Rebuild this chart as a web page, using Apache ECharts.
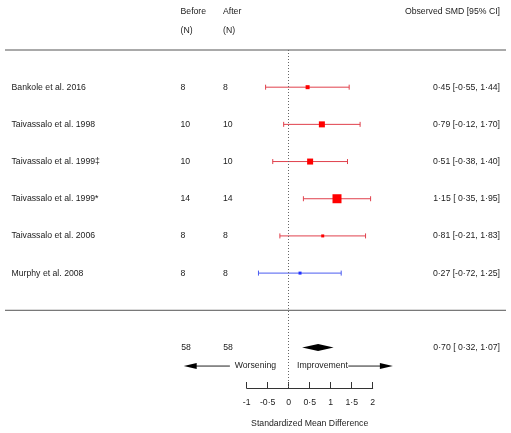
<!DOCTYPE html>
<html><head><meta charset="utf-8">
<script src="https://cdn.jsdelivr.net/npm/echarts@6/dist/echarts.min.js"></script>
<style>html,body{margin:0;padding:0;background:#fff}#c{width:511px;height:433px}</style>
</head><body><div id="c"></div>
<script>
const studies = ['Bankole et al. 2016','Taivassalo et al. 1998','Taivassalo et al. 1999\u2021','Taivassalo et al. 1999*','Taivassalo et al. 2006','Murphy et al. 2008'];
const beforeN = [8,10,10,14,8,8];
const afterN = [8,10,10,14,8,8];
const smd = [0.45,0.79,0.51,1.15,0.81,0.27];
const ciLow = [-0.55,-0.12,-0.38,0.35,-0.21,-0.72];
const ciHigh = [1.44,1.70,1.40,1.95,1.83,1.25];
const weights = [16,36,36,81,9,9];
const groups = ['A','A','A','A','A','B'];
const summary = {before:58, after:58, est:0.70, lo:0.32, hi:1.07};
const tickLabels = ['-1','-0\u00b75','0','0\u00b75','1','1\u00b75','2'];

const FONT = 'Liberation Sans, Arial, sans-serif';
const FS = 8.7;
const colors = {A:{line:'#e0404c', pt:'#ff0000'}, B:{line:'#4a5cf0', pt:'#2030ff'}};
const fmt = v => (v<0?'-':'') + Math.abs(v).toFixed(2).replace('.', '\u00b7');
const fmtCI = (e,l,h) => fmt(e) + ' [' + (l<0?'':' ') + fmt(l) + ', ' + fmt(h) + ']';

const chart = echarts.init(document.getElementById('c'), null, {renderer:'canvas'});
const rows = smd.map((v,i)=>[v, i, ciLow[i], ciHigh[i], weights[i], groups[i]]);

const option = {
  animation:false,
  grid:{left:246.7, right:138.3, top:50, bottom:45},
  xAxis:{type:'value', min:-1, max:2, interval:0.5, position:'bottom',
    axisLine:{show:true, onZero:false, lineStyle:{color:'#333', width:1}},
    axisTick:{show:true, inside:true, length:6, lineStyle:{color:'#333'}},
    splitLine:{show:false},
    axisLabel:{margin:10, fontSize:FS, color:'#222', fontFamily:FONT,
      formatter:(v)=>{const i=Math.round((v+1)/0.5); return tickLabels[i]||'';}},
    name:'Standardized Mean Difference', nameLocation:'middle', nameGap:31,
    nameTextStyle:{fontSize:FS, color:'#222', fontFamily:FONT}},
  yAxis:{type:'value', min:-1, max:8.09, inverse:true, show:false},
  series:[
    {type:'custom', clip:false, data:rows,
      renderItem:(params, api)=>{
        const y = api.value(1);
        const p = api.coord([api.value(0), y]);
        const l = api.coord([api.value(2), y]);
        const h = api.coord([api.value(3), y]);
        const c = colors[rows[params.dataIndex][5]];
        const s = Math.sqrt(api.value(4));
        return {type:'group', children:[
          {type:'line', shape:{x1:l[0],y1:l[1],x2:h[0],y2:h[1]}, style:{stroke:c.line, lineWidth:1}},
          {type:'line', shape:{x1:l[0],y1:l[1]-2.5,x2:l[0],y2:l[1]+2.5}, style:{stroke:c.line, lineWidth:1}},
          {type:'line', shape:{x1:h[0],y1:h[1]-2.5,x2:h[0],y2:h[1]+2.5}, style:{stroke:c.line, lineWidth:1}},
          {type:'rect', shape:{x:p[0]-s/2, y:p[1]-s/2, width:s, height:s}, style:{fill:c.pt}}
        ]};
      },
      markLine:{silent:true, symbol:'none', label:{show:false},
        lineStyle:{color:'#666', type:[1,2], width:1}, data:[{xAxis:0}]}
    },
    {type:'custom', clip:false, data:[[summary.est, 7, summary.lo, summary.hi]],
      renderItem:(params, api)=>{
        const y = api.value(1);
        const p = api.coord([api.value(0), y]);
        const l = api.coord([api.value(2), y]);
        const h = api.coord([api.value(3), y]);
        return {type:'polygon', shape:{points:[[l[0],l[1]],[p[0],p[1]-3.5],[h[0],h[1]],[p[0],p[1]+3.5]]}, style:{fill:'#000'}};
      }}
  ]
};
chart.setOption(option);

const px = (x,y)=>chart.convertToPixel({gridIndex:0},[x,y]);
const g = [];
const txt = (x,y,text,align,extra)=>g.push(Object.assign({type:'text', x:x, y:y, style:{text:text, fontSize:FS, fontFamily:FONT, fill:'#222', align:align||'left', verticalAlign:'middle'}}, extra||{}));
const colX = {study:11.5, before:180.5, after:223, right:500};
// header
txt(colX.before, 12, 'Before'); txt(colX.before, 31, '(N)');
txt(colX.after, 12, 'After'); txt(colX.after, 31, '(N)');
txt(colX.right, 12, 'Observed SMD [95% CI]', 'right');
// separators
const yTop = px(0,-1)[1], yBot = px(0,6)[1];
g.push({type:'line', shape:{x1:5,y1:yTop,x2:506,y2:yTop}, style:{stroke:'#555', lineWidth:1}});
g.push({type:'line', shape:{x1:5,y1:yBot,x2:506,y2:yBot}, style:{stroke:'#555', lineWidth:1}});
studies.forEach((s,i)=>{
  const y = px(0,i)[1];
  txt(colX.study, y, s);
  txt(colX.before, y, String(beforeN[i]));
  txt(colX.after, y, String(afterN[i]));
  txt(colX.right, y, fmtCI(smd[i], ciLow[i], ciHigh[i]), 'right');
});
const ys = px(0,7)[1];
txt(colX.before+5.5, ys, String(summary.before), 'center');
txt(colX.after+5, ys, String(summary.after), 'center');
txt(colX.right, ys, fmtCI(summary.est, summary.lo, summary.hi), 'right');
// arrows
const ya = px(0,7.5)[1];
const lt = px(-2.5,7.5)[0], le = px(-1.4,7.5)[0], rs = px(1.42,7.5)[0], rt = px(2.48,7.5)[0];
g.push({type:'line', shape:{x1:lt+12,y1:ya,x2:le,y2:ya}, style:{stroke:'#222', lineWidth:1}});
g.push({type:'polygon', shape:{points:[[lt,ya],[lt+13,ya-3],[lt+13,ya+3]]}, style:{fill:'#000'}});
g.push({type:'line', shape:{x1:rs,y1:ya,x2:rt-12,y2:ya}, style:{stroke:'#222', lineWidth:1}});
g.push({type:'polygon', shape:{points:[[rt,ya],[rt-13,ya-3],[rt-13,ya+3]]}, style:{fill:'#000'}});
txt(px(-0.3,0)[0], ya, 'Worsening', 'right');
txt(px(0.2,0)[0], ya, 'Improvement', 'left');
chart.setOption({graphic:g});
</script></body></html>
